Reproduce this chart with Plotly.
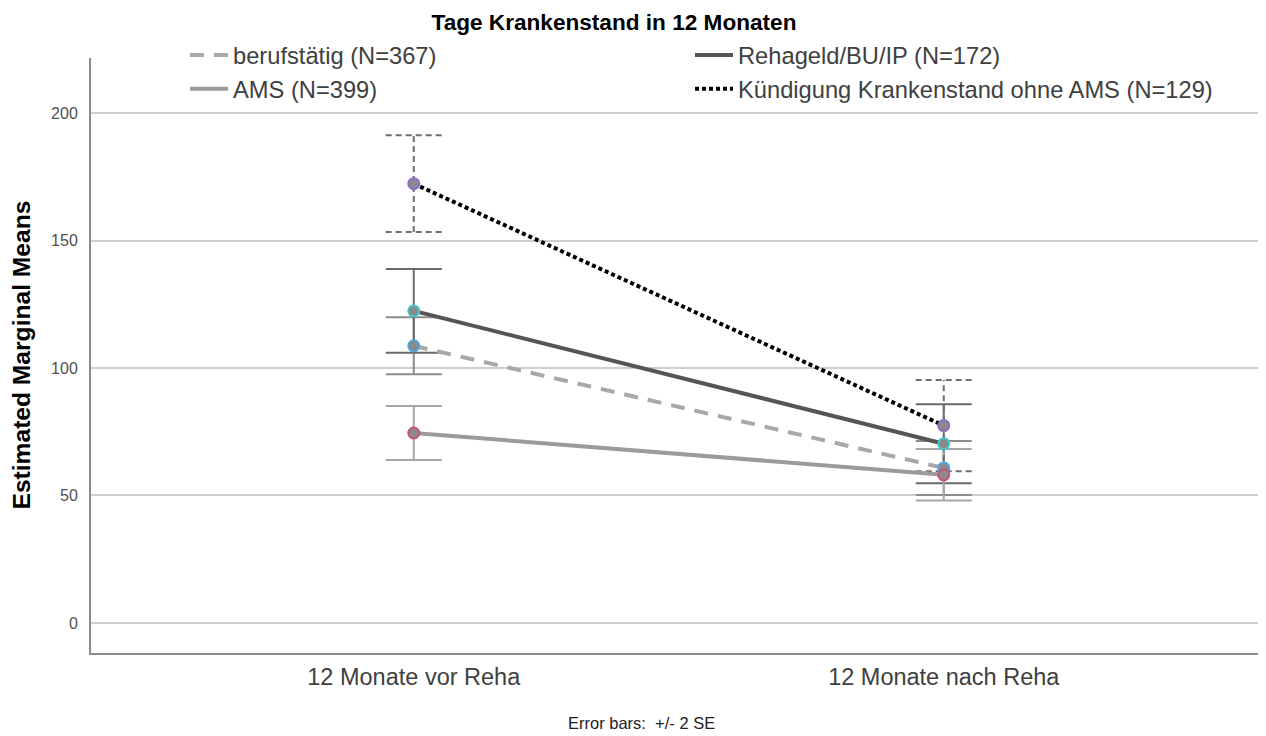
"""
Tage Krankenstand in 12 Monaten: estimated marginal means, error bars +/- 2 SE.
"""
import plotly.graph_objects as go

# ── Data ──────────────────────────────────────────────────────────────────────
periods = ["12 Monate vor Reha", "12 Monate nach Reha"]
x_pos = [0, 1]

groups = [
    "berufstätig (N=367)",
    "Rehageld/BU/IP (N=172)",
    "AMS (N=399)",
    "Kündigung Krankenstand ohne AMS (N=129)",
]

means_berufstaetig = [108.7, 60.8]
means_rehageld = [122.4, 70.3]
means_ams = [74.5, 58.1]
means_kuendigung = [172.3, 77.4]

se2_berufstaetig = [11.2, 10.6]
se2_rehageld = [16.4, 15.5]
se2_ams = [10.6, 10.1]
se2_kuendigung = [19.0, 17.9]

y_ticks = [0, 50, 100, 150, 200]

# ── Styles ────────────────────────────────────────────────────────────────────
FONT = "Liberation Sans, Arial, sans-serif"
MARKER_FILL = "#8a8a8a"
CAP_HALF = 0.053  # half width of error bar caps in x units

# page body has an 8px margin, so the figure is 8px smaller on each used side
W, H = 1258, 728
L, T, B = 83, 50, 83
PW, PH = W - L, H - T - B

series = [
    # name, means, errors, line colour, dash, marker outline, bar colour, legend column
    (groups[0], means_berufstaetig, se2_berufstaetig, "#a8a8a8", "14px,10px", "#4ea5e0", "#8c8c8c", "legend"),
    (groups[1], means_rehageld, se2_rehageld, "#555555", "solid", "#3fc9c9", "#6a6a6a", "legend2"),
    (groups[2], means_ams, se2_ams, "#9c9a9c", "solid", "#c8507a", "#a6a6a6", "legend"),
    (groups[3], means_kuendigung, se2_kuendigung, "#000000", "4px,3px", "#8f6cc8", "#6e6e6e", "legend2"),
]

fig = go.Figure()

# error bars first so they sit behind lines and markers
for name, m, e, lc, dash, mc, bc, lg in series:
    if dash == "4px,3px":
        # dashed bars for the Kündigung group, built as line segments
        xs, ys = [], []
        for xi, mi, ei in zip(x_pos, m, e):
            xs += [xi, xi, None, xi - CAP_HALF, xi + CAP_HALF, None, xi - CAP_HALF, xi + CAP_HALF, None]
            ys += [mi - ei, mi + ei, None, mi + ei, mi + ei, None, mi - ei, mi - ei, None]
        fig.add_trace(go.Scatter(
            x=xs, y=ys, mode="lines", showlegend=False, hoverinfo="skip",
            line=dict(color=bc, width=2, dash="6px,4px"),
        ))
    else:
        fig.add_trace(go.Scatter(
            x=x_pos, y=m, mode="markers", showlegend=False, hoverinfo="skip",
            marker=dict(size=1, opacity=0),
            error_y=dict(type="data", array=e, color=bc, thickness=2, width=28),
        ))

for name, m, e, lc, dash, mc, bc, lg in series:
    fig.add_trace(go.Scatter(
        x=x_pos, y=m, mode="lines", name=name, legend=lg,
        line=dict(color=lc, width=4, dash=dash),
    ))

for name, m, e, lc, dash, mc, bc, lg in series:
    fig.add_trace(go.Scatter(
        x=x_pos, y=m, mode="markers", showlegend=False,
        marker=dict(size=11, color=MARKER_FILL, line=dict(color=mc, width=2)),
    ))

legend_style = dict(
    orientation="v", xref="container", yref="container",
    xanchor="left", y=1 - 25 / H, yanchor="top", itemwidth=38,
    font=dict(size=23.7, color="#404040", family=FONT),
    bgcolor="rgba(0,0,0,0)", traceorder="normal",
)

fig.update_layout(
    width=W, height=H,
    margin=dict(l=L, r=0, t=T, b=B, autoexpand=False),
    paper_bgcolor="white", plot_bgcolor="white",
    font=dict(family=FONT, color="#404040"),
    title=dict(
        text="<b>Tage Krankenstand in 12 Monaten</b>",
        x=606 / W, xanchor="center", xref="container",
        y=1 - 14 / H, yanchor="middle", yref="container",
        font=dict(size=22.6, color="#000000", family=FONT),
    ),
    legend=dict(x=177 / W, **legend_style),
    legend2=dict(x=682 / W, **legend_style),
    showlegend=True,
    xaxis=dict(
        range=[-0.609, 1.608], tickvals=x_pos, ticktext=periods,
        showgrid=False, zeroline=False, showline=True, linecolor="#8c8c8c", linewidth=2,
        tickfont=dict(size=23.5, color="#404040"), ticklabelstandoff=2,
    ),
    yaxis=dict(
        range=[-11.8, 221.6], tickvals=y_ticks,
        showgrid=True, gridcolor="#cfcfcf", gridwidth=2, zeroline=False,
        showline=True, linecolor="#8c8c8c", linewidth=2,
        tickfont=dict(size=16, color="#505050"), ticklabelstandoff=8,
    ),
    annotations=[
        dict(
            text="<b>Estimated Marginal Means</b>", textangle=-90,
            xref="paper", yref="paper", x=(13 - L) / PW, y=0.5,
            xanchor="center", yanchor="middle", showarrow=False,
            font=dict(size=24.6, color="#000000", family=FONT),
        ),
        dict(
            text="Error bars:  +/- 2 SE",
            xref="paper", yref="paper", x=(633 - L) / PW, y=-70 / PH,
            xanchor="center", yanchor="middle", showarrow=False,
            font=dict(size=16.5, color="#202020", family=FONT),
        ),
    ],
)

fig.write_html("out.html")
